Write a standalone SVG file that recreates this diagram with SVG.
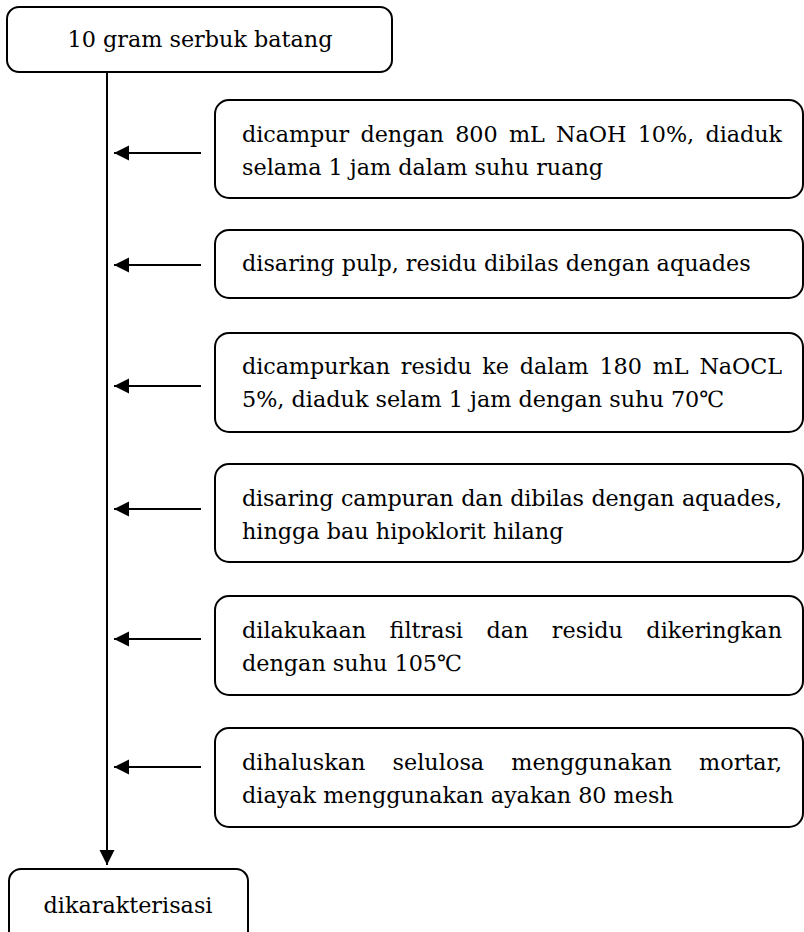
<svg xmlns="http://www.w3.org/2000/svg" width="804" height="932" viewBox="0 0 804 932">
<style>
.box{fill:#fff;stroke:#000;stroke-width:2}
.t{font-family:"DejaVu Serif","Liberation Serif",serif;font-size:22.3px;fill:#000}
.c{text-anchor:middle}
.ln{stroke:#000;stroke-width:2;fill:none}
</style>
<defs>
<marker id="ah" markerUnits="userSpaceOnUse" markerWidth="16" markerHeight="16" viewBox="0 0 16 16" refX="15" refY="8" orient="auto">
<path d="M0,0.5 L15,8 L0,15.5 Z" fill="#000"/>
</marker>
</defs>
<rect width="804" height="932" fill="#fff"/>
<g id="connectors">
<line class="ln" x1="107" y1="72" x2="107" y2="865" marker-end="url(#ah)"/>
<line class="ln" x1="201" y1="153" x2="114" y2="153" marker-end="url(#ah)"/>
<line class="ln" x1="201" y1="265" x2="114" y2="265" marker-end="url(#ah)"/>
<line class="ln" x1="201" y1="386" x2="114" y2="386" marker-end="url(#ah)"/>
<line class="ln" x1="201" y1="509" x2="114" y2="509" marker-end="url(#ah)"/>
<line class="ln" x1="201" y1="639" x2="114" y2="639" marker-end="url(#ah)"/>
<line class="ln" x1="201" y1="767" x2="114" y2="767" marker-end="url(#ah)"/>
</g>
<g id="start">
<rect class="box" x="7" y="7" width="385" height="65" rx="12"/>
<text class="t c" x="200" y="47">10 gram serbuk batang</text>
</g>
<g id="step1">
<rect class="box" x="215" y="100" width="588" height="98" rx="14"/>
<text class="t" x="242" y="142" style="word-spacing:4.3px" textLength="540" lengthAdjust="spacing">dicampur dengan 800 mL NaOH 10%, diaduk</text>
<text class="t" x="242" y="175">selama 1 jam dalam suhu ruang</text>
</g>
<g id="step2">
<rect class="box" x="215" y="230" width="588" height="68" rx="14"/>
<text class="t" x="242" y="271">disaring pulp, residu dibilas dengan aquades</text>
</g>
<g id="step3">
<rect class="box" x="215" y="333" width="588" height="99" rx="14"/>
<text class="t" x="242" y="374" style="word-spacing:3.9px" textLength="540" lengthAdjust="spacing">dicampurkan residu ke dalam 180 mL NaOCL</text>
<text class="t" x="242" y="407">5%, diaduk selam 1 jam dengan suhu 70℃</text>
</g>
<g id="step4">
<rect class="box" x="215" y="464" width="588" height="98" rx="14"/>
<text class="t" x="242" y="506" style="word-spacing:0.7px" textLength="540" lengthAdjust="spacing">disaring campuran dan dibilas dengan aquades,</text>
<text class="t" x="242" y="539">hingga bau hipoklorit hilang</text>
</g>
<g id="step5">
<rect class="box" x="215" y="596" width="588" height="99" rx="14"/>
<text class="t" x="242" y="638" style="word-spacing:16.4px" textLength="540" lengthAdjust="spacing">dilakukaan filtrasi dan residu dikeringkan</text>
<text class="t" x="242" y="671">dengan suhu 105℃</text>
</g>
<g id="step6">
<rect class="box" x="215" y="728" width="588" height="99" rx="14"/>
<text class="t" x="242" y="770" style="word-spacing:19.9px" textLength="540" lengthAdjust="spacing">dihaluskan selulosa menggunakan mortar,</text>
<text class="t" x="242" y="803">diayak menggunakan ayakan 80 mesh</text>
</g>
<g id="end">
<rect class="box" x="9" y="869" width="239" height="90" rx="12"/>
<text class="t c" x="128" y="913">dikarakterisasi</text>
</g>
</svg>
